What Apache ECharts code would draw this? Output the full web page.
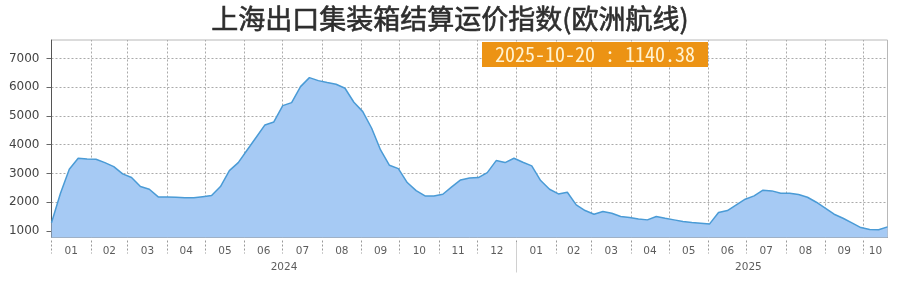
<!DOCTYPE html>
<html><head><meta charset="utf-8">
<script src="https://cdn.jsdelivr.net/npm/echarts@6/dist/echarts.min.js"></script>
<style>html,body{margin:0;padding:0;background:#fff}#c{width:900px;height:283px}</style>
</head><body><div id="c"></div>
<script>
const titleText = '上海出口集装箱结算运价指数(欧洲航线)';
const lastLabel = '2025-10-20 : 1140.38';

const dates2024 = ['2024-01-01','2024-01-08','2024-01-15','2024-01-22','2024-01-29','2024-02-05','2024-02-12','2024-02-19','2024-02-26',
'2024-03-04','2024-03-11','2024-03-18','2024-03-25','2024-04-01','2024-04-08','2024-04-15','2024-04-22','2024-04-29',
'2024-05-06','2024-05-13','2024-05-20','2024-05-27','2024-06-03','2024-06-10','2024-06-17','2024-06-24',
'2024-07-01','2024-07-08','2024-07-15','2024-07-22','2024-07-29','2024-08-05','2024-08-12','2024-08-19','2024-08-26',
'2024-09-02','2024-09-09','2024-09-16','2024-09-23','2024-09-30','2024-10-07','2024-10-14','2024-10-21','2024-10-28',
'2024-11-04','2024-11-11','2024-11-18','2024-11-25','2024-12-02','2024-12-09','2024-12-16','2024-12-23','2024-12-30'];
const values2024 = [1280,2300,3144,3527,3500,3490,3376,3237,2982,
2855,2541,2450,2182,2180,2170,2150,2150,2190,
2228,2541,3098,3376,3813,4250,4686,4790,
5358,5462,6018,6331,6227,6158,6100,5961,5474,
5149,4570,3816,3283,3167,2681,2402,2217,2217,
2275,2530,2773,2843,2854,3028,3445,3376,3527];

const dates2025 = ['2025-01-06','2025-01-13','2025-01-20','2025-01-27','2025-02-03','2025-02-10','2025-02-17','2025-02-24',
'2025-03-03','2025-03-10','2025-03-17','2025-03-24','2025-03-31','2025-04-07','2025-04-14','2025-04-21','2025-04-28',
'2025-05-05','2025-05-12','2025-05-19','2025-05-26','2025-06-02','2025-06-09','2025-06-16','2025-06-23','2025-06-30',
'2025-07-07','2025-07-14','2025-07-21','2025-07-28','2025-08-04','2025-08-11','2025-08-18','2025-08-25',
'2025-09-01','2025-09-08','2025-09-15','2025-09-22','2025-09-29','2025-10-06','2025-10-13','2025-10-20'];
const values2025 = [3388,3260,2750,2449,2286,2344,1904,1707,
1580,1672,1614,1498,1464,1417,1383,1498,1440,
1383,1325,1290,1267,1243,1637,1707,1904,2101,
2217,2414,2391,2310,2310,2263,2171,1997,
1788,1580,1440,1278,1116,1045,1040,1140.38];

const monthStarts = ['2024-01-01','2024-02-01','2024-03-01','2024-04-01','2024-05-01','2024-06-01','2024-07-01','2024-08-01',
'2024-09-01','2024-10-01','2024-11-01','2024-12-01','2025-01-01','2025-02-01','2025-03-01','2025-04-01','2025-05-01',
'2025-06-01','2025-07-01','2025-08-01','2025-09-01','2025-10-01'];
const monthLabels = ['01','02','03','04','05','06','07','08','09','10','11','12','01','02','03','04','05','06','07','08','09','10'];
const yearLabels = ['2024','2025'];
const yearStarts = ['2024-01-01','2025-01-01'];
const yearEnds = ['2025-01-01','2026-01-01'];
const yTickValues = [1000,2000,3000,4000,5000,6000,7000];
const xMin = '2024-01-01', xMax = '2025-10-20';
const yMin = 770, yMax = 7640;

const t = s => new Date(s + 'T00:00:00').getTime();
const dates = dates2024.concat(dates2025);
const values = values2024.concat(values2025);
const seriesData = dates.map((d, i) => [t(d), values[i]]);

const tMin = t(xMin), tMax = t(xMax);
const labelData = [];
monthStarts.forEach((m, i) => {
  const s = t(m);
  const e = Math.min(i + 1 < monthStarts.length ? t(monthStarts[i + 1]) : tMax, tMax);
  labelData.push([(s + e) / 2, 14, monthLabels[i]]);
});
yearLabels.forEach((y, i) => {
  labelData.push([(t(yearStarts[i]) + t(yearEnds[i])) / 2, 30, y]);
});
const tickLines = monthStarts.map(m => [{coord: [t(m), 3]}, {coord: [t(m), 16]}]);
const sepLine = [[{coord: [t('2025-01-01'), 5], lineStyle: {type: 'solid', color: '#d0d0d0'}}, {coord: [t('2025-01-01'), 35]}]];

const chart = echarts.init(document.getElementById('c'), null, {renderer: 'canvas'});
chart.setOption({
  animation: false,
  title: [{
    text: titleText, left: 'center', top: 0,
    textStyle: {fontFamily: 'Noto Sans CJK SC', fontSize: 27, fontWeight: 'normal', color: '#2e2e2e',
      textBorderColor: '#2e2e2e', textBorderWidth: 0.6}
  }, {
    text: lastLabel, left: 482, top: 42,
    backgroundColor: '#ec9314', padding: [2, 13, 2, 13],
    textStyle: {fontFamily: "'Noto Sans Mono CJK SC', 'Liberation Mono', monospace", fontSize: 20, fontWeight: 'normal', color: '#fff3d2', lineHeight: 21}
  }],
  grid: [
    {left: 51.5, right: 12.5, top: 40, bottom: 45.5, show: true, borderColor: '#b8b8b8', borderWidth: 1, containLabel: false},
    {left: 51.5, right: 12.5, top: 237.5, height: 45.5, show: false}
  ],
  xAxis: [
    {type: 'time', gridIndex: 0, min: tMin, max: tMax,
     axisLine: {show: true, lineStyle: {color: '#999', width: 1}},
     axisTick: {show: false}, axisLabel: {show: false}, splitLine: {show: false}},
    {type: 'time', gridIndex: 1, min: tMin, max: tMax, show: false}
  ],
  yAxis: [
    {type: 'value', gridIndex: 0, min: yMin, max: yMax,
     axisLine: {show: true, lineStyle: {color: '#555', width: 1}},
     axisTick: {show: true, length: 5, customValues: yTickValues, lineStyle: {color: '#666'}},
     axisLabel: {show: true, customValues: yTickValues, margin: 12, color: '#444', fontFamily: 'DejaVu Sans', fontSize: 12,
       formatter: v => (v % 1000 === 0 ? String(v) : '')},
     splitLine: {show: true, lineStyle: {type: [2, 2], color: '#aaa', width: 1}}},
    {type: 'value', gridIndex: 1, min: 0, max: 45.5, inverse: true, show: false}
  ],
  series: [
    {
      type: 'line', xAxisIndex: 0, yAxisIndex: 0, z: 1, silent: true,
      data: seriesData, showSymbol: false, lineStyle: {opacity: 0},
      markLine: {silent: true, z: 1, symbol: ['none', 'none'], label: {show: false},
        lineStyle: {type: [2, 2], color: '#aaa', width: 1},
        data: monthStarts.slice(1).map(m => ({xAxis: t(m)}))}
    },
    {
      type: 'line', xAxisIndex: 0, yAxisIndex: 0, z: 10,
      data: seriesData, showSymbol: false, smooth: false,
      lineStyle: {color: '#4a9bd6', width: 1.5},
      areaStyle: {color: '#a6caf4', opacity: 1}
    },
    {
      type: 'scatter', xAxisIndex: 1, yAxisIndex: 1, silent: true,
      data: labelData, symbolSize: 1, itemStyle: {color: 'rgba(0,0,0,0)'},
      label: {show: true, position: 'inside', formatter: p => p.value[2], color: '#333', fontFamily: 'DejaVu Sans', fontSize: 10.5},
      markLine: {silent: true, symbol: ['none', 'none'], label: {show: false},
        lineStyle: {type: [2, 2], color: '#999', width: 1},
        data: tickLines.concat(sepLine)}
    }
  ]
});
</script></body></html>
